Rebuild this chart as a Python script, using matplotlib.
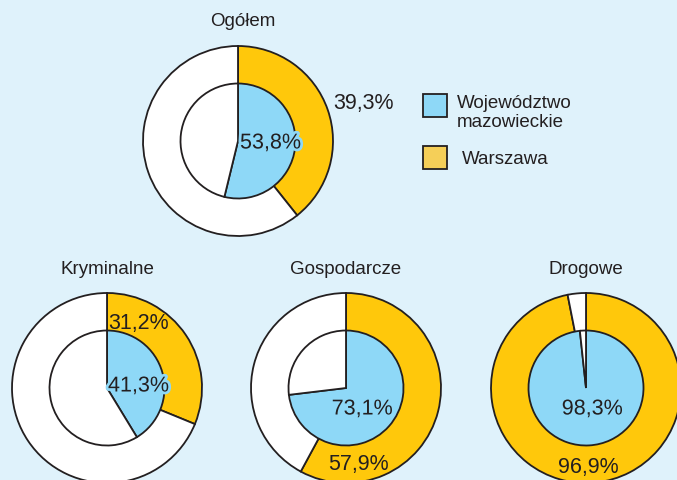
import matplotlib.pyplot as plt
import matplotlib.patheffects as pe
from matplotlib.patches import Rectangle

plt.rcParams['font.family'] = ['Liberation Sans', 'DejaVu Sans']

# dane
titles = ['Ogółem', 'Kryminalne', 'Gospodarcze', 'Drogowe']
warszawa = [39.3, 31.2, 57.9, 96.9]      # pierścień zewnętrzny
mazowieckie = [53.8, 41.3, 73.1, 98.3]   # koło wewnętrzne
legend_labels = ['Województwo\nmazowieckie', 'Warszawa']

W, H = 677, 481
BG = '#dff2fb'
BLUE = '#8ed8f7'
YELLOW = '#ffc80b'
LEG_YELLOW = '#f5cf58'
INK = '#231f20'

# położenie wykresów w pikselach (x, y od góry)
centers = [(238, 142), (107, 389), (346, 389), (586, 389)]
title_pos = [(243, 22), (107, 270), (346, 270), (586, 270)]
R_OUT, R_IN = 95, 57.5

# etykiety: (x, y, ha) dla wewn. i zewn.
in_lab = [(240, 144, 'left'), (108, 387, 'left'), (362, 410, 'center'), (592, 410, 'center')]
out_lab = [(333, 104, 'left'), (108, 324, 'left'), (358, 465, 'center'), (588, 468, 'center')]

fig = plt.figure(figsize=(W / 100, H / 100), dpi=100, facecolor=BG)
ax = fig.add_axes([0, 0, 1, 1])
ax.set_facecolor(BG)

def fy(y):
    return H - y

wp = dict(edgecolor=INK, linewidth=1.3)
for i in range(4):
    cx, cy = centers[i]
    ax.pie([warszawa[i], 100 - warszawa[i]], colors=[YELLOW, 'white'],
           startangle=90, counterclock=False, radius=R_OUT,
           center=(cx, fy(cy)), wedgeprops=wp, frame=True)
    ax.pie([mazowieckie[i], 100 - mazowieckie[i]], colors=[BLUE, 'white'],
           startangle=90, counterclock=False, radius=R_IN,
           center=(cx, fy(cy)), wedgeprops=wp, frame=True)

    tx, ty = title_pos[i]
    ax.text(tx, fy(ty), titles[i], ha='center', va='center', fontsize=13.5,
            color=INK)

    x, y, ha = in_lab[i]
    ax.text(x, fy(y), f'{mazowieckie[i]:.1f}%'.replace('.', ','), ha=ha,
            va='center', fontsize=15.5, color=INK,
            path_effects=[pe.withStroke(linewidth=4, foreground=BLUE)])
    x, y, ha = out_lab[i]
    ax.text(x, fy(y), f'{warszawa[i]:.1f}%'.replace('.', ','), ha=ha,
            va='center', fontsize=15.5, color=INK)

# legenda
for (y0, col, lab, ty) in [(95, BLUE, legend_labels[0], 113), (147, LEG_YELLOW, legend_labels[1], 160)]:
    ax.add_patch(Rectangle((423, fy(y0 + 23)), 24, 23, facecolor=col,
                           edgecolor=INK, linewidth=1.3))
    ax.text(457 if col == BLUE else 462, fy(ty), lab, ha='left', va='center',
            fontsize=13.5, color=INK, linespacing=1.1)

ax.set_xlim(0, W)
ax.set_ylim(0, H)
ax.set_aspect('equal')
ax.axis('off')

fig.savefig('out.png', dpi=100, facecolor=BG)
